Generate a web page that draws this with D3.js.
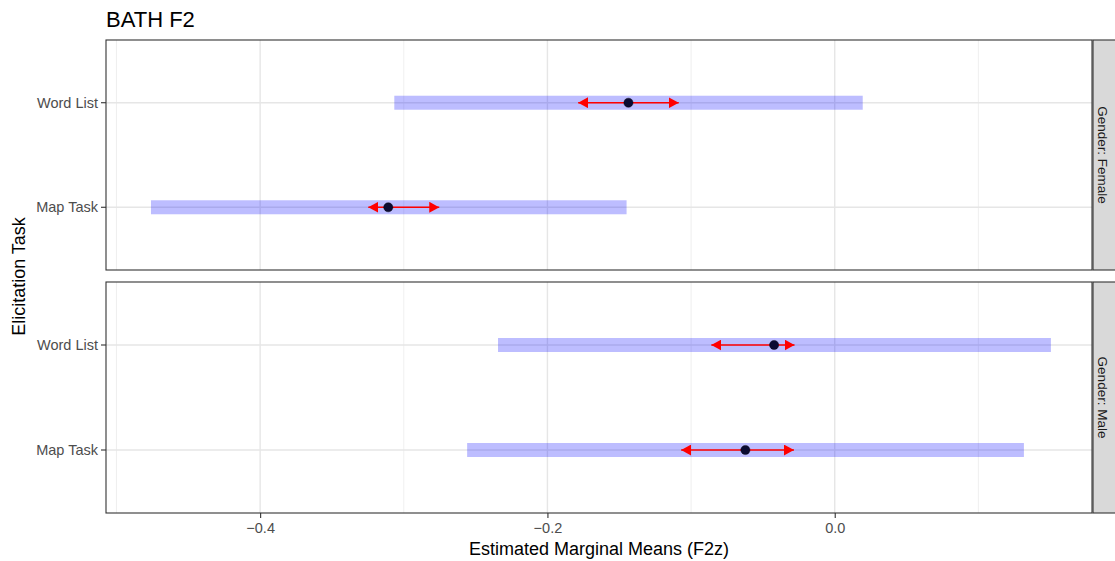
<!DOCTYPE html>
<html><head><meta charset="utf-8">
<script src="https://cdn.jsdelivr.net/npm/d3@7"></script>
<style>body{margin:0;background:#fff;font-family:"Liberation Sans",Arial,sans-serif;}</style>
</head><body><svg id="c" width="1115" height="561"></svg>
<script>
const tasks = ["Map Task", "Word List"];
const panels = ["Gender: Female", "Gender: Male"];
const emmean = [[-0.3108, -0.1436], [-0.0622, -0.0422]];
const lowerCL = [[-0.4760, -0.3066], [-0.2559, -0.2344]];
const upperCL = [[-0.1449, 0.0195], [0.1317, 0.1505]];
const arrowLo = [[-0.3247, -0.1786], [-0.1069, -0.0859]];
const arrowHi = [[-0.2753, -0.1086], [-0.0284, -0.0280]];
const xTicks = [-0.4, -0.2, 0.0];
const xMinor = [-0.5, -0.3, -0.1, 0.1];

const svg = d3.select("#c");
const L = 106, R = 1092, stripW = 22;
const panelY = [[40, 270], [282, 513]];
const x = d3.scaleLinear().domain([-0.5073, 0.1791]).range([L, R]);

const defs = svg.append("defs");
defs.append("marker").attr("id","ah").attr("viewBox","0 0 10 10").attr("refX",10).attr("refY",5)
  .attr("markerWidth",10).attr("markerHeight",11).attr("markerUnits","userSpaceOnUse").attr("orient","auto-start-reverse")
  .attr("preserveAspectRatio","none")
  .append("path").attr("d","M0,0L10,5L0,10Z").attr("fill","#ff0000");

panels.forEach((p, i) => {
  const [y0, y1] = panelY[i];
  const yy = d3.scaleLinear().domain([0.4, 2.6]).range([y1, y0]);
  const ypos = t => yy(tasks.indexOf(t) + 1);
  const g = svg.append("g");
  g.append("rect").attr("x", L).attr("y", y0).attr("width", R - L).attr("height", y1 - y0).attr("fill", "#fff");
  xMinor.forEach(v => g.append("line").attr("x1", x(v)).attr("x2", x(v)).attr("y1", y0).attr("y2", y1).attr("stroke", "#ebebeb").attr("stroke-width", 0.8));
  xTicks.forEach(v => g.append("line").attr("x1", x(v)).attr("x2", x(v)).attr("y1", y0).attr("y2", y1).attr("stroke", "#e6e6e6").attr("stroke-width", 1.4));
  tasks.forEach(t => g.append("line").attr("x1", L).attr("x2", R).attr("y1", ypos(t)).attr("y2", ypos(t)).attr("stroke", "#e6e6e6").attr("stroke-width", 1.4));
  tasks.forEach((t, j) => {
    g.append("rect").attr("x", x(lowerCL[i][j])).attr("y", ypos(t) - 7).attr("width", x(upperCL[i][j]) - x(lowerCL[i][j])).attr("height", 14)
      .attr("fill", "rgb(0,0,255)").attr("fill-opacity", 0.26);
  });
  tasks.forEach((t, j) => {
    g.append("line").attr("x1", x(arrowLo[i][j])).attr("x2", x(arrowHi[i][j])).attr("y1", ypos(t)).attr("y2", ypos(t))
      .attr("stroke", "#ff0000").attr("stroke-width", 1.7).attr("marker-start", "url(#ah)").attr("marker-end", "url(#ah)");
    g.append("circle").attr("cx", x(emmean[i][j])).attr("cy", ypos(t)).attr("r", 4.6).attr("fill", "#0b0b33").attr("stroke","#000").attr("stroke-width",0.4);
  });
  g.append("rect").attr("x", L).attr("y", y0).attr("width", R - L).attr("height", y1 - y0).attr("fill", "none").attr("stroke", "#333").attr("stroke-width", 1.1);
  tasks.forEach(t => {
    g.append("line").attr("x1", L - 5).attr("x2", L).attr("y1", ypos(t)).attr("y2", ypos(t)).attr("stroke", "#333").attr("stroke-width", 1.1);
    g.append("text").attr("x", L - 8).attr("y", ypos(t)).attr("dy", "0.36em").attr("text-anchor", "end")
      .attr("font-size", 14.5).attr("fill", "#4d4d4d").text(t);
  });
  g.append("rect").attr("x", R + 1).attr("y", y0).attr("width", stripW + 2).attr("height", y1 - y0).attr("fill", "#d9d9d9").attr("stroke", "#333").attr("stroke-width", 1.1);
  g.append("text").attr("transform", `translate(${R + 1 + stripW / 2 - 1},${(y0 + y1) / 2}) rotate(90)`).attr("text-anchor", "middle").attr("dy", "0.36em")
    .attr("font-size", 13.5).attr("fill", "#1a1a1a").text(p);
});

const xb = panelY[1][1];
const xa = svg.append("g").attr("transform", `translate(0,${xb})`)
  .call(d3.axisBottom(x).tickValues(xTicks).tickFormat(d3.format(".1f")).tickSize(5).tickSizeOuter(0));
xa.select(".domain").remove();
xa.selectAll("line").attr("stroke", "#333").attr("stroke-width", 1.1);
xa.selectAll("text").attr("font-size", 14.5).attr("fill", "#4d4d4d").attr("font-family", "Liberation Sans, Arial, sans-serif").attr("y", 20).attr("dy", 0);

svg.append("text").attr("x", (L + R) / 2).attr("y", 555).attr("text-anchor", "middle").attr("font-size", 18).attr("fill", "#000").text("Estimated Marginal Means (F2z)");
svg.append("text").attr("transform", `translate(25,${(panelY[0][0] + panelY[1][1]) / 2}) rotate(-90)`).attr("text-anchor", "middle").attr("font-size", 18).attr("fill", "#000").text("Elicitation Task");
svg.append("text").attr("x", L).attr("y", 27).attr("font-size", 22).attr("fill", "#000").text("BATH F2");
</script></body></html>
